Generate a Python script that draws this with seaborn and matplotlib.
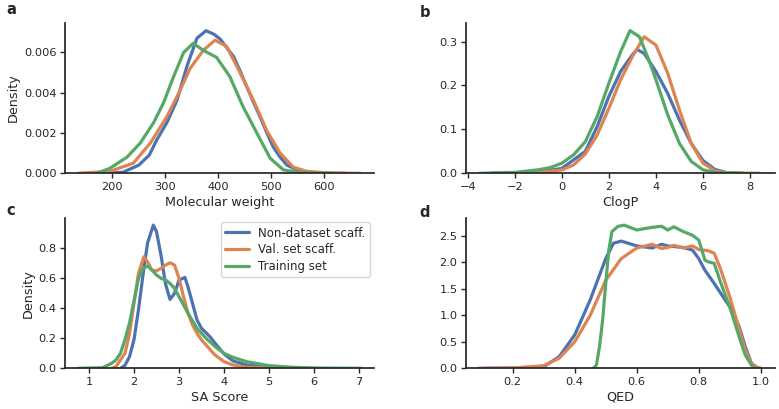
import pandas as pd
import seaborn as sns
import matplotlib.pyplot as plt

names = ['Non-dataset scaff.', 'Val. set scaff.', 'Training set']
colors = ['#4C72B0', '#DD8452', '#55A868']

# a - molecular weight density curves
mw_blue_x = [185, 220, 250, 270, 284, 303, 322, 341, 360, 377, 392, 404, 417, 429, 441, 454, 467, 479, 492, 504, 517, 530, 555, 580, 640]
mw_blue_y = [0, 0.00005, 0.0004, 0.0009, 0.00165, 0.0025, 0.0036, 0.0053, 0.0067, 0.00707, 0.0069, 0.00665, 0.0062, 0.0058, 0.0051, 0.0043, 0.0035, 0.0028, 0.0020, 0.0013, 0.0008, 0.0004, 0.0001, 0.00002, 0]
mw_orange_x = [136, 196, 240, 272, 303, 328, 347, 372, 394, 416, 441, 467, 492, 517, 542, 567, 610, 668]
mw_orange_y = [0, 0.0001, 0.0005, 0.0015, 0.0028, 0.0041, 0.0052, 0.0061, 0.0066, 0.0063, 0.0050, 0.0036, 0.0021, 0.0010, 0.0003, 0.0001, 0.00001, 0]
mw_green_x = [171, 196, 228, 253, 278, 297, 316, 335, 353, 372, 397, 422, 447, 473, 498, 523, 555, 617]
mw_green_y = [0, 0.00025, 0.0008, 0.0015, 0.0025, 0.0035, 0.0048, 0.0060, 0.00645, 0.0061, 0.00575, 0.0048, 0.0033, 0.0020, 0.00075, 0.00017, 0.00003, 0]

# b - ClogP
lp_blue_x = [-3.0, -2.0, -1.0, -0.5, 0, 1, 1.5, 2, 2.5, 3, 3.2, 3.5, 4, 4.5, 5, 5.5, 6, 6.5, 7, 7.7]
lp_blue_y = [0, 0.001, 0.004, 0.007, 0.011, 0.05, 0.106, 0.175, 0.232, 0.27, 0.282, 0.273, 0.232, 0.182, 0.121, 0.068, 0.029, 0.009, 0.0015, 0]
lp_orange_x = [-3.0, -2.0, -1.0, 0, 0.5, 1, 1.5, 2, 2.5, 3, 3.5, 4, 4.5, 5, 5.5, 6, 6.5, 7, 8.4]
lp_orange_y = [0, 0.0005, 0.002, 0.0076, 0.019, 0.044, 0.087, 0.148, 0.213, 0.266, 0.311, 0.292, 0.228, 0.144, 0.068, 0.023, 0.006, 0.001, 0]
lp_green_x = [-3.5, -2, -1, -0.5, 0, 0.5, 1, 1.5, 2, 2.5, 2.9, 3.3, 3.7, 4, 4.5, 5, 5.5, 6, 6.5, 7.7]
lp_green_y = [0, 0.002, 0.008, 0.013, 0.023, 0.042, 0.072, 0.129, 0.205, 0.277, 0.325, 0.311, 0.258, 0.213, 0.133, 0.068, 0.027, 0.008, 0.002, 0]

# c - SA score
sa_blue_x = [1.7, 1.8, 1.9, 2.0, 2.1, 2.2, 2.3, 2.43, 2.5, 2.6, 2.7, 2.8, 2.9, 3.0, 3.13, 3.2, 3.3, 3.4, 3.5, 3.6, 3.7, 3.8, 4.0, 4.2, 4.5, 5.0, 5.5, 6.0]
sa_blue_y = [0, 0.02, 0.077, 0.19, 0.39, 0.62, 0.83, 0.95, 0.906, 0.75, 0.56, 0.457, 0.497, 0.585, 0.603, 0.54, 0.43, 0.32, 0.265, 0.236, 0.205, 0.166, 0.095, 0.049, 0.022, 0.007, 0.002, 0]
sa_orange_x = [1.5, 1.6, 1.8, 1.9, 2.0, 2.1, 2.22, 2.3, 2.4, 2.5, 2.6, 2.7, 2.8, 2.9, 3.0, 3.1, 3.2, 3.3, 3.4, 3.5, 3.6, 3.7, 3.8, 4.0, 4.2, 4.5, 5.0, 5.5]
sa_orange_y = [0, 0.011, 0.10, 0.23, 0.43, 0.63, 0.74, 0.707, 0.65, 0.647, 0.663, 0.685, 0.70, 0.685, 0.597, 0.475, 0.365, 0.287, 0.232, 0.188, 0.155, 0.12, 0.088, 0.044, 0.022, 0.007, 0.002, 0]
sa_green_x = [0.75, 1.3, 1.5, 1.6, 1.7, 1.8, 1.9, 2.0, 2.1, 2.2, 2.3, 2.4, 2.5, 2.6, 2.7, 2.8, 2.9, 3.0, 3.2, 3.4, 3.6, 3.8, 4.0, 4.2, 4.5, 5.0, 5.5, 6.0, 7.05]
sa_green_y = [0, 0.004, 0.033, 0.055, 0.10, 0.19, 0.30, 0.45, 0.597, 0.663, 0.678, 0.652, 0.619, 0.597, 0.586, 0.563, 0.53, 0.475, 0.365, 0.265, 0.199, 0.144, 0.099, 0.073, 0.044, 0.018, 0.007, 0.002, 0]

# d - QED
qed_blue_x = [0.09, 0.2, 0.3, 0.35, 0.4, 0.45, 0.5, 0.525, 0.55, 0.6, 0.65, 0.68, 0.7, 0.75, 0.78, 0.8, 0.82, 0.85, 0.9, 0.93, 0.95, 0.97, 0.99, 1.0]
qed_blue_y = [0, 0.005, 0.03, 0.22, 0.63, 1.29, 2.07, 2.36, 2.40, 2.31, 2.27, 2.34, 2.31, 2.28, 2.23, 2.07, 1.85, 1.60, 1.16, 0.79, 0.41, 0.09, 0.01, 0]
qed_orange_x = [0.1, 0.2, 0.3, 0.35, 0.4, 0.45, 0.5, 0.55, 0.6, 0.65, 0.68, 0.7, 0.72, 0.75, 0.78, 0.8, 0.83, 0.85, 0.87, 0.9, 0.93, 0.95, 0.97, 0.99, 1.0]
qed_orange_y = [0, 0.005, 0.05, 0.19, 0.50, 1.0, 1.66, 2.07, 2.27, 2.34, 2.26, 2.28, 2.32, 2.27, 2.31, 2.24, 2.22, 2.17, 1.88, 1.35, 0.75, 0.35, 0.08, 0.01, 0]
qed_green_x = [0.46, 0.47, 0.48, 0.49, 0.5, 0.51, 0.52, 0.54, 0.56, 0.6, 0.65, 0.68, 0.7, 0.72, 0.75, 0.78, 0.8, 0.82, 0.83, 0.85, 0.87, 0.9, 0.93, 0.95, 0.97, 0.98]
qed_green_y = [0, 0.06, 0.41, 0.91, 1.6, 2.23, 2.58, 2.68, 2.70, 2.61, 2.66, 2.68, 2.61, 2.67, 2.58, 2.51, 2.42, 2.04, 2.01, 1.98, 1.63, 1.16, 0.60, 0.25, 0.06, 0]


def long_df(xs, ys):
    parts = []
    for n, x, y in zip(names, xs, ys):
        parts.append(pd.DataFrame({'x': x, 'y': y, 'set': n}))
    return pd.concat(parts, ignore_index=True)


sns.set_theme(style='ticks')
plt.rcParams['font.family'] = ['DejaVu Sans']

fig = plt.figure(figsize=(7.79, 4.09), dpi=100)
ax1 = fig.add_axes([0.0834, 0.5763, 0.3967, 0.3682])
ax2 = fig.add_axes([0.5982, 0.5763, 0.3967, 0.3682])
ax3 = fig.add_axes([0.0834, 0.0995, 0.3967, 0.3667])
ax4 = fig.add_axes([0.5982, 0.0995, 0.3967, 0.3667])

# letter positions (axes fraction, baseline)
panels = [
    (ax1, long_df([mw_blue_x, mw_orange_x, mw_green_x], [mw_blue_y, mw_orange_y, mw_green_y]),
     'Molecular weight', 'Density', (111, 694), (0, 0.00747), [200, 300, 400, 500, 600], [0, 0.002, 0.004, 0.006], 'a', (-0.19, 1.058)),
    (ax2, long_df([lp_blue_x, lp_orange_x, lp_green_x], [lp_blue_y, lp_orange_y, lp_green_y]),
     'ClogP', '', (-4.07, 9.06), (0, 0.343), [-4, -2, 0, 2, 4, 6, 8], [0, 0.1, 0.2, 0.3], 'b', (-0.15, 1.038)),
    (ax3, long_df([sa_blue_x, sa_orange_x, sa_green_x], [sa_blue_y, sa_orange_y, sa_green_y]),
     'SA Score', 'Density', (0.467, 7.33), (0, 0.995), [1, 2, 3, 4, 5, 6, 7], [0, 0.2, 0.4, 0.6, 0.8], 'c', (-0.19, 1.022)),
    (ax4, long_df([qed_blue_x, qed_orange_x, qed_green_x], [qed_blue_y, qed_orange_y, qed_green_y]),
     'QED', '', (0.0494, 1.046), (0, 2.83), [0.2, 0.4, 0.6, 0.8, 1.0], [0, 0.5, 1.0, 1.5, 2.0, 2.5], 'd', (-0.15, 1.009)),
]

for ax, df, xl, yl, xlim, ylim, xt, yt, letter, lpos in panels:
    sns.lineplot(data=df, x='x', y='y', hue='set', palette=colors, estimator=None,
                 linewidth=2.3, ax=ax, legend=(letter == 'c'))
    ax.set_xlim(xlim)
    ax.set_ylim(ylim)
    ax.set_xticks(xt)
    ax.set_yticks(yt)
    ax.set_xlabel(xl, fontsize=9.2, labelpad=3)
    ax.set_ylabel(yl, fontsize=9.2, labelpad=3)
    ax.tick_params(labelsize=8.2, length=3.5, width=1, pad=2.5)
    sns.despine(ax=ax)
    ax.text(lpos[0], lpos[1], letter, transform=ax.transAxes,
            fontsize=10.5, fontweight='bold', va='baseline', ha='left')

ax1.yaxis.set_major_formatter(plt.FormatStrFormatter('%.3f'))
ax3.legend(title=None, loc='upper right', fontsize=8.5, frameon=True,
           labelspacing=0.3, borderaxespad=0.3, bbox_to_anchor=(1.0, 1.0))

fig.savefig('out.png', dpi=100)
